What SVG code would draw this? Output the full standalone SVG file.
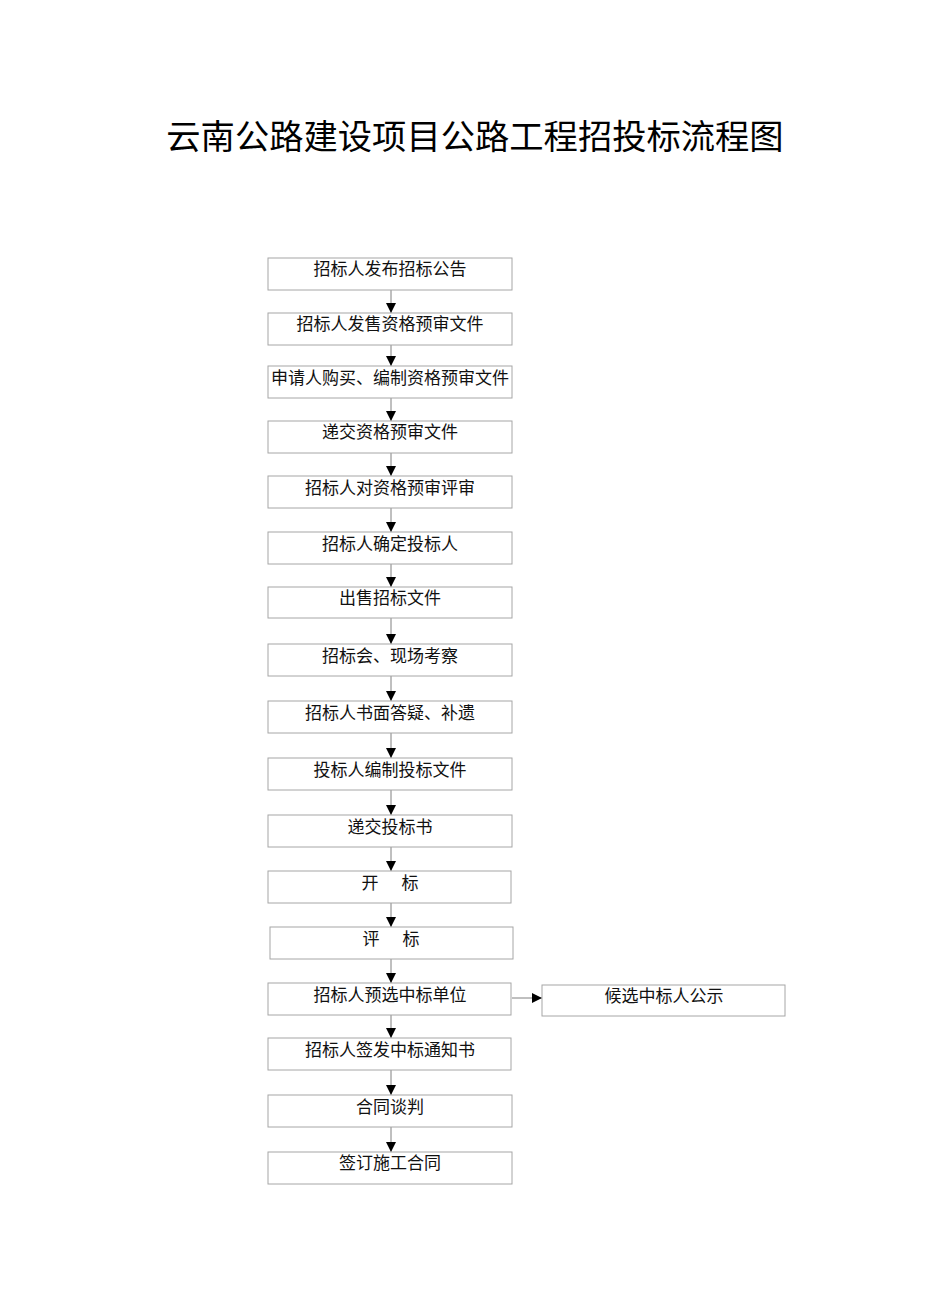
<svg xmlns="http://www.w3.org/2000/svg" width="950" height="1316" viewBox="0 0 950 1316">
<defs>
<marker id="ah" markerWidth="10" markerHeight="10" refX="10" refY="5" orient="auto" markerUnits="userSpaceOnUse">
<path d="M0,0 L10,5 L0,10 Z" fill="#000"/>
</marker>
<style>
.box{fill:#fff;stroke:#a6a6a6;stroke-width:1}
.t{font-family:"Noto Sans CJK SC","Noto Sans CJK JP",sans-serif;font-size:17px;fill:#111;text-anchor:middle}
.title{font-family:"Noto Sans CJK SC",sans-serif;font-size:34.3px;fill:#000;text-anchor:middle}
.c{stroke:#808080;stroke-width:1;fill:none;marker-end:url(#ah)}
</style>
</defs>
<rect width="950" height="1316" fill="#fff"/>
<text class="title" x="475" y="149">云南公路建设项目公路工程招投标流程图</text>
<g id="connectors">
<line class="c" x1="391" y1="290" x2="391" y2="313"/>
<line class="c" x1="391" y1="345" x2="391" y2="366"/>
<line class="c" x1="391" y1="398" x2="391" y2="421"/>
<line class="c" x1="391" y1="453" x2="391" y2="476"/>
<line class="c" x1="391" y1="508" x2="391" y2="532"/>
<line class="c" x1="391" y1="564" x2="391" y2="587"/>
<line class="c" x1="391" y1="618" x2="391" y2="644"/>
<line class="c" x1="391" y1="676" x2="391" y2="701"/>
<line class="c" x1="391" y1="733" x2="391" y2="758"/>
<line class="c" x1="391" y1="790" x2="391" y2="815"/>
<line class="c" x1="391" y1="847" x2="391" y2="871"/>
<line class="c" x1="391" y1="903" x2="391" y2="927"/>
<line class="c" x1="391" y1="959" x2="391" y2="983"/>
<line class="c" x1="391" y1="1015" x2="391" y2="1038"/>
<line class="c" x1="391" y1="1070" x2="391" y2="1095"/>
<line class="c" x1="391" y1="1127" x2="391" y2="1152"/>
<line class="c" x1="512" y1="998" x2="542" y2="998"/>
</g>
<g id="n1"><rect class="box" x="268" y="258" width="244" height="32"/><text class="t" x="390" y="275">招标人发布招标公告</text></g>
<g id="n2"><rect class="box" x="268" y="313" width="244" height="32"/><text class="t" x="390" y="330">招标人发售资格预审文件</text></g>
<g id="n3"><rect class="box" x="268" y="366" width="244" height="32"/><text class="t" x="390" y="384">申请人购买、编制资格预审文件</text></g>
<g id="n4"><rect class="box" x="268" y="421" width="244" height="32"/><text class="t" x="390" y="438">递交资格预审文件</text></g>
<g id="n5"><rect class="box" x="268" y="476" width="244" height="32"/><text class="t" x="390" y="494">招标人对资格预审评审</text></g>
<g id="n6"><rect class="box" x="268" y="532" width="244" height="32"/><text class="t" x="390" y="550">招标人确定投标人</text></g>
<g id="n7"><rect class="box" x="268" y="587" width="244" height="31"/><text class="t" x="390" y="604">出售招标文件</text></g>
<g id="n8"><rect class="box" x="268" y="644" width="244" height="32"/><text class="t" x="390" y="662">招标会、现场考察</text></g>
<g id="n9"><rect class="box" x="268" y="701" width="244" height="32"/><text class="t" x="390" y="719">招标人书面答疑、补遗</text></g>
<g id="n10"><rect class="box" x="268" y="758" width="244" height="32"/><text class="t" x="390" y="776">投标人编制投标文件</text></g>
<g id="n11"><rect class="box" x="268" y="815" width="244" height="32"/><text class="t" x="390" y="833">递交投标书</text></g>
<g id="n12"><rect class="box" x="268" y="871" width="243" height="32"/><text class="t" x="390" y="889" xml:space="preserve">开      标</text></g>
<g id="n13"><rect class="box" x="270" y="927" width="243" height="32"/><text class="t" x="391" y="945" xml:space="preserve">评      标</text></g>
<g id="n14"><rect class="box" x="268" y="983" width="243" height="32"/><text class="t" x="390" y="1001">招标人预选中标单位</text></g>
<g id="n14b"><rect class="box" x="542" y="985" width="243" height="31"/><text class="t" x="664" y="1002">候选中标人公示</text></g>
<g id="n15"><rect class="box" x="268" y="1038" width="243" height="32"/><text class="t" x="390" y="1056">招标人签发中标通知书</text></g>
<g id="n16"><rect class="box" x="268" y="1095" width="244" height="32"/><text class="t" x="390" y="1113">合同谈判</text></g>
<g id="n17"><rect class="box" x="268" y="1152" width="244" height="32"/><text class="t" x="390" y="1169">签订施工合同</text></g>
</svg>
